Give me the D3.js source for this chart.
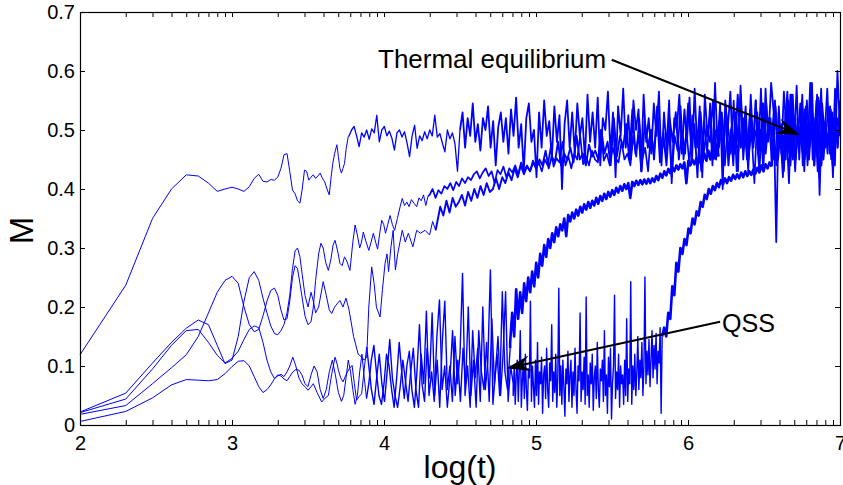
<!DOCTYPE html>
<html>
<head>
<meta charset="utf-8">
<script src="https://cdn.jsdelivr.net/npm/d3@7"></script>
<style>
body { margin: 0; background: #fff; }
text { font-family: "Liberation Sans", Arial, Helvetica, sans-serif; fill: #000; }
</style>
</head>
<body>
<script>
// x = log(t), y = M

// curve A (top, reaches 0.42 early)
var curveA = [[2,.119],[2.301,.237],[2.477,.35],[2.602,.40],[2.699,.424],[2.778,.422],[2.845,.41],[2.903,.396],[2.954,.40],[3,.403],[3.041,.40],[3.079,.396],[3.114,.404],[3.146,.418],[3.176,.425],[3.204,.413],[3.23,.412],[3.255,.416],[3.279,.415],[3.301,.42],[3.322,.435],[3.342,.458],[3.362,.46],[3.38,.43],[3.398,.398],[3.415,.392],[3.431,.38],[3.447,.376],[3.462,.40],[3.477,.432],[3.491,.43],[3.505,.415],[3.519,.42],[3.535,.424],[3.55,.418],[3.565,.422],[3.58,.427],[3.595,.418],[3.61,.412],[3.625,.40],[3.64,.39],[3.652,.42],[3.663,.443],[3.675,.46],[3.69,.475],[3.70,.455],[3.71,.435],[3.72,.427],[3.73,.435],[3.74,.443],[3.752,.47],[3.765,.489]];
var curveANoise1Span = [3.77, 4.5];
var curveANoise1 = [.49,.50,.506,.49,.472,.495,.488,.50,.484,.502,.495,.525,.48,.50,.506,.49,.498,.486,.466,.495,.50,.488,.497,.478,.455,.49,.508,.469,.49,.482,.497,.485,.50,.49,.525,.488,.494,.478,.463,.50,.485,.495,.477,.43,.50];
var curveANoise2Span = [4.5, 7];
var curveANoise2 = [.50,.53,.47,.52,.49,.545,.48,.51,.465,.52,.50,.54,.47,.515,.44,.505,.53,.48,.52,
  .46,.535,.49,.555,.47,.51,.43,.52,.545,.48,.50,.42,.53,.47,.55,.49,.515,.45,.54,.48,.525,.40,.51,.55,.47,.53,.46,.545,.49,.52,
  .45,.56,.48,.53,.47,.555,.44,.52,.50,.565,.46,.53,.42,.54,.49,.57,.47,.525,.45,.55,.50,.535,.43,.56,.48,.52,.46,.545,.49,.565,.44,.53,.47,.55,.41,.52,.50,.56,.46,.535,.48,.555,
  .45,.57,.47,.54,.42,.56,.49,.525,.44,.58,.47,.545,.40,.55,.50,.565,.46,.53,.43,.575,.48,.54,.45,.56,.47,.55,.46,.57,.44,.55,
  .49,.58,.53,.31,.54,.46,.565,.50,.41,.56,.47,.575,.45,.535,.43,.55,.48,.58,.44,.56,.39,.545,.49,.57,.46,.53,.44,.60,.50];

// curve B (rises second)
var curveB = [[2,.018],[2.301,.033],[2.477,.07],[2.602,.097],[2.699,.119],[2.778,.15],[2.845,.19],[2.903,.225],[2.954,.245],[3,.252],[3.041,.24],[3.079,.20],[3.114,.17],[3.146,.158],[3.176,.162],[3.204,.185],[3.23,.21],[3.255,.228],[3.279,.232],[3.301,.22],[3.322,.195],[3.342,.178],[3.362,.18],[3.38,.21],[3.398,.25],[3.415,.27],[3.431,.265],[3.447,.24],[3.465,.21],[3.48,.185],[3.50,.17],[3.52,.175],[3.535,.20],[3.55,.245],[3.57,.29],[3.585,.308],[3.60,.30],[3.617,.275],[3.634,.262],[3.65,.28],[3.665,.305],[3.678,.313],[3.695,.295],[3.71,.274],[3.725,.27],[3.74,.285],[3.755,.278],[3.776,.262],[3.795,.31],[3.81,.339],[3.825,.322],[3.84,.30],[3.852,.31],[3.864,.327],[3.88,.312],[3.90,.296],[3.915,.31],[3.93,.325],[3.945,.31],[3.958,.298],[3.972,.325],[3.985,.347],[3.998,.34],[4.01,.325],[4.025,.34],[4.04,.355],[4.055,.34],[4.07,.33],[4.088,.35],[4.106,.37],[4.12,.384],[4.135,.372],[4.15,.378],[4.165,.37],[4.18,.382],[4.20,.375],[4.215,.37],[4.23,.385],[4.245,.38],[4.26,.39],[4.275,.372],[4.29,.388]];
var curveBNoiseSpan = [4.3, 7];
var curveBNoise = [.39,.40,.385,.398,.392,.405,.40,.41,.398,.412,.405,.418,.41,.42,.415,.425,
  .43,.418,.428,.435,.422,.43,.41,.432,.425,.438,.42,.435,.428,.44,.425,.445,.432,.44,.43,.448,.435,
  .445,.43,.45,.44,.47,.438,.452,.445,.48,.44,.455,.435,.46,.45,.49,.442,.455,.44,.465,.45,.445,.50,.448,.46,.44,.47,.452,.445,.48,.45,.46,
  .44,.49,.455,.52,.45,.47,.43,.50,.46,.53,.445,.48,.46,.51,.42,.49,.465,.54,.45,.50,.44,.525,.47,.49,.43,.515,.46,.545,.45,.50,.47,.53,.44,.51,.46,.55,.43,.49,.475,.52,.45,.50,.41,.53,.46,.545,.48,.51,.44,.54,.465,.50,.43,.525,.47,.56,.45,.505,.48,.535,.44,.52,.46,.55,.42,.51,.47,.54,.45,.52,.48,.53];

// curve C (rises third)
var curveC = [[2,.022],[2.301,.054],[2.477,.105],[2.602,.14],[2.699,.164],[2.778,.178],[2.845,.17],[2.903,.135],[2.954,.104],[3,.11],[3.041,.15],[3.079,.21],[3.114,.25],[3.146,.26],[3.176,.245],[3.204,.215],[3.23,.19],[3.255,.168],[3.279,.155],[3.301,.153],[3.322,.16],[3.342,.17],[3.362,.19],[3.38,.22],[3.398,.265],[3.415,.295],[3.431,.30],[3.447,.285],[3.462,.255],[3.48,.22],[3.50,.20],[3.52,.225],[3.535,.21],[3.55,.19],[3.57,.20],[3.60,.243],[3.62,.22],[3.64,.195],[3.656,.189],[3.675,.20],[3.69,.205],[3.71,.211],[3.73,.20],[3.75,.215],[3.77,.195],[3.80,.15],[3.83,.12],[3.853,.115],[3.87,.11],[3.886,.115],[3.90,.20],[3.919,.268],[3.935,.24],[3.95,.20],[3.974,.183],[3.99,.23],[4.007,.274],[4.02,.29],[4.03,.26],[4.045,.30],[4.06,.33],[4.075,.263],[4.09,.29],[4.105,.31],[4.12,.33],[4.14,.31],[4.16,.325],[4.19,.302],[4.215,.33],[4.24,.325],[4.27,.33],[4.30,.322],[4.32,.345],[4.34,.33]];
var curveCNoiseSpan = [4.37, 7];
var curveCNoise = [.37,.355,.38,.36,.385,.37,.378,.39,.372,.395,.38,
  .40,.385,.405,.39,.41,.395,.40,.418,.40,.42,
  .41,.428,.415,.435,.42,.44,.425,.438,.43,.445,
  .435,.45,.44,.465,.435,.455,.445,.48,.44,.46,.45,.47,.445,.49,.45,.46,.44,.475,.455,.465,
  .45,.50,.46,.48,.44,.52,.455,.49,.47,.51,.45,.535,.46,.49,.43,.515,.47,.50,.45,.54,.465,.495,.44,.52,.48,.53,.45,.50,.46,.545,.47,.51,.42,.53,.46,.50,.48,.55,.45,.515,.47,.53,.44,.505,.46,.56,.47,.52,.45,.535,.48,.50,.43,.545,.46,.52,.49,.55,.45,.51,.47,.565,.44,.525,.48,.50,.46,.54,.45,.53,.47,.555,.44,.51,.48,.535,.46,.52,.49];

// curve D (QSS, leaves it near log(t)=4.8)
var curveD = [[2,.021],[2.301,.044],[2.477,.095],[2.602,.135],[2.699,.16],[2.778,.162],[2.845,.14],[2.903,.118],[2.954,.105],[3,.113],[3.041,.125],[3.079,.145],[3.114,.162],[3.146,.168],[3.176,.165],[3.204,.14],[3.23,.11],[3.255,.09],[3.279,.079],[3.301,.083],[3.322,.086],[3.342,.082],[3.362,.09],[3.38,.10],[3.40,.115],[3.42,.10],[3.44,.08],[3.46,.07],[3.48,.065],[3.50,.059],[3.52,.065],[3.535,.07],[3.56,.055],[3.59,.039],[3.61,.045],[3.634,.05],[3.655,.085],[3.678,.115],[3.69,.105],[3.70,.093],[3.715,.08],[3.73,.073],[3.75,.085],[3.77,.095],[3.79,.101],[3.805,.07],[3.82,.042],[3.835,.048],[3.853,.053],[3.87,.095],[3.886,.132]];
var curveDNoiseSpan = [3.9, 4.83];
var curveDNoise = [.10,.06,.035,.08,.12,.07,.04,.09,.145,.08,.05,.03,.065,.11,.075,.04,.09,.13,
  .06,.03,.12,.07,.193,.05,.09,.04,.15,.212,.06,.10,.03,.08,.16,.05,.11,.04,
  .13,.07,.20,.05,.11,.03,.16,.09,.06,.14,.04,.18,.07,.12,.05,.226,.09,.06,.13];
var curveDRiseSpan = [4.83, 6.2];
var curveDRise = [.14,.19,.15,.23,.18,.225,.19,.24,.21,.25,.225,.26,.235,.275,.25,.29,.27,.305,.285,.315,.30,.325,.31,.335,.32,.34,.33,.35,.32,.356,.345,.36,.35,.365,.355,.37,.36,.374,.365,.378,.368,.38,.372,.385,.375,.388,.38,.392,.383,.395,.387,.398,.39,.402,.394,.405,.397,.408,.40,.41,.385,.412,.405,.414,.407,.415,.408,.416,.409,.417,.41,.418,.412,.422,.415,.426,.419,.43,.423,.434,.427,.437,.43,.44,.433,.442,.435,.445,.41,.448,.44,.45,.442,.452,.444,.455,.446,.46,.448,.465,.45,.47,.452,.475,.455];
var curveDBandSpan = [6.2, 7];
var curveDBand = [.47,.51,.45,.54,.46,.50,.44,.53,.48,.56,.45,.51,.43,.52,.47,.55,.46,.50,.44,.57,.48,.52,.45,.54,.47,.49,.42,.53,.46,.56,.45,.51,.48,.545,.44,.50,.47,.58,.45,.52,.43,.55,.48,.51,.46,.54,.44,.57,.47,.52];

// curve E (QSS, leaves it near log(t)=5.8)
var curveE = [[2,.006],[2.301,.023],[2.477,.046],[2.602,.068],[2.699,.077],[2.778,.076],[2.845,.075],[2.903,.077],[2.954,.087],[3,.099],[3.041,.108],[3.079,.109],[3.114,.10],[3.146,.082],[3.176,.065],[3.204,.055],[3.23,.06],[3.255,.068],[3.279,.078],[3.301,.085],[3.322,.083],[3.342,.078],[3.362,.075],[3.38,.082],[3.40,.09],[3.42,.094],[3.44,.093],[3.46,.085],[3.48,.07],[3.50,.065],[3.52,.085],[3.54,.10],[3.56,.09],[3.58,.06],[3.60,.045],[3.62,.06],[3.64,.09],[3.66,.11],[3.68,.085],[3.70,.055],[3.72,.04],[3.735,.05],[3.75,.08],[3.765,.11],[3.78,.09],[3.795,.06],[3.81,.035],[3.825,.05],[3.84,.09],[3.855,.12],[3.87,.08],[3.885,.045]];
var curveENoise1Span = [3.9, 4.85];
var curveENoise1 = [.07,.11,.135,.09,.05,.035,.07,.12,.10,.06,.03,.08,.14,.09,.045,.10,.125,.06,
  .03,.09,.17,.07,.04,.13,.08,.19,.05,.11,.03,.14,.21,.06,.10,.04,.15,.07,
  .12,.257,.05,.10,.03,.16,.08,.13,.04,.20,.06,.11,.263,.035,.09,.15,.05,.12,.226,.04,.10,.07];
var curveENoise2Span = [4.85, 5.83];
var curveENoise2 = [.05,.10,.035,.085,.11,.04,.09,.16,.03,.075,.105,.045,.12,.06,.025,.095,.08,.21,.04,.10,
  .065,.03,.11,.05,.14,.035,.09,.07,.115,.02,.085,.10,.045,.13,.06,.03,.105,.075,.17,.04,
  .09,.055,.12,.03,.08,.232,.05,.10,.035,.11,.065,.015,.095,.07,.125,.04,.085,.11,.03,.09,
  .05,.13,.06,.02,.10,.075,.19,.04,.09,.06,.115,.035,.217,.05,.085,.03,.105,.07,.12,.025,
  .08,.10,.045,.14,.06,.03,.095,.075,.11,.04,.16,.05,.085,.02,.115,.065,.13,.01,.07,.10,
  .22,.045,.09,.06,.12,.03,.10,.07,.085,.035,.11,.05,.18,.04,.095,.07,.243,.035,.10,.06,
  .12,.05,.09,.15,.06,.11,.08,.14,.05,.10,.251,.07,.125,.085,.145,.065,.11,.16,.08,.135,
  .095,.155,.07,.125,.105,.165,.02,.15];
var curveERiseSpan = [5.83, 6.55];
var curveERise = [.15,.165,.15,.19,.18,.235,.22,.275,.26,.30,.29,.315,.305,.333,.325,.35,.34,.362,.355,.378,.37,.39,.383,.40,.392,.405,.398,.41,.403,.415,.408,.418,.41,.42,.414,.424,.417,.425,.418,.428,.42,.43,.422,.43,.424,.433,.426,.436,.428,.44,.43,.442,.435,.445,.438];
var curveEBandSpan = [6.55, 7];
var curveEBand = [.46,.50,.44,.53,.47,.49,.45,.55,.46,.51,.43,.52,.48,.56,.45,.50,.47,.54,.44,.51,.46,.57,.45,.50,.48,.53,.42,.52,.47,.55];

var xTicks = [2, 3, 4, 5, 6, 7];
var yTicks = [0, 0.1, 0.2, 0.3, 0.4, 0.5, 0.6, 0.7];

var window_w = 843, window_h = 485;
var margin = {left: 80, top: 12, right: 3, bottom: 60};
var frame_w = window_w - margin.left - margin.right;
var frame_h = window_h - margin.top - margin.bottom;

var xScale = d3.scaleLinear().domain([2, 7]).range([0, frame_w]);
var yScale = d3.scaleLinear().domain([0, 0.7]).range([frame_h, 0]);

// minor ticks of the log(t) axis
var xMinor = [];
for (var n = 2; n < 7; n++) {
  for (var k = 2; k < 10; k++) xMinor.push(n + Math.log10(k));
}

// [span, values, stroke width]
var curves = [
  {pts: curveA, segs: [[curveANoise1Span, curveANoise1, 1.3], [curveANoise2Span, curveANoise2, 1.8]]},
  {pts: curveB, segs: [[curveBNoiseSpan, curveBNoise, 1.7]]},
  {pts: curveC, segs: [[curveCNoiseSpan, curveCNoise, 1.9]]},
  {pts: curveD, segs: [[curveDNoiseSpan, curveDNoise, 1.4], [curveDRiseSpan, curveDRise, 2.6], [curveDBandSpan, curveDBand, 1.8]]},
  {pts: curveE, segs: [[curveENoise1Span, curveENoise1, 1.4], [curveENoise2Span, curveENoise2, 1.4], [curveERiseSpan, curveERise, 2.6], [curveEBandSpan, curveEBand, 1.8]]}
];

var svg = d3.select("body").append("svg").attr("width", window_w).attr("height", window_h);
var g = svg.append("g").attr("transform", "translate(" + margin.left + "," + margin.top + ")");
var plot = g.append("g");

var line = d3.line()
  .x(function (d) { return xScale(d[0]); })
  .y(function (d) { return yScale(d[1]); });

function drawLine(pts, w) {
  plot.append("path")
    .attr("d", line(pts))
    .attr("fill", "none")
    .attr("stroke", "#0000ff")
    .attr("stroke-width", w)
    .attr("stroke-linejoin", "round");
}

curves.forEach(function (c) {
  drawLine(c.pts, 1);
  var prev = c.pts[c.pts.length - 1];
  c.segs.forEach(function (s) {
    var ix = d3.scaleLinear().domain([0, s[1].length - 1]).range(s[0]);
    var pts = [prev].concat(s[1].map(function (v, i) { return [ix(i), v]; }));
    drawLine(pts, s[2]);
    prev = pts[pts.length - 1];
  });
});

// axes, ticks pointing inside
var xAxis = d3.axisBottom(xScale).tickValues(xTicks.concat(xMinor))
  .tickSizeInner(-5).tickSizeOuter(0).tickPadding(11)
  .tickFormat(function (d) { return Number.isInteger(d) ? d : ""; });
var xAxisTop = d3.axisTop(xScale).tickValues(xTicks.concat(xMinor))
  .tickSizeInner(-5).tickSizeOuter(0).tickFormat("");
var yAxis = d3.axisLeft(yScale).tickValues(yTicks)
  .tickSizeInner(-5).tickSizeOuter(0).tickPadding(5)
  .tickFormat(function (d) { return d === 0 ? "0" : d.toFixed(1); });
var yAxisRight = d3.axisRight(yScale).tickValues(yTicks)
  .tickSizeInner(-5).tickSizeOuter(0).tickFormat("");

var axes = [
  g.append("g").attr("transform", "translate(0," + frame_h + ")").call(xAxis),
  g.append("g").call(xAxisTop),
  g.append("g").call(yAxis),
  g.append("g").attr("transform", "translate(" + frame_w + ",0)").call(yAxisRight)
];
axes.forEach(function (a) {
  a.select(".domain").remove();
  a.attr("font-family", null).attr("font-size", 20);
  a.selectAll("line").attr("stroke", "#000");
});

g.append("rect")
  .attr("x", 0.5).attr("y", 0.5)
  .attr("width", frame_w).attr("height", frame_h)
  .attr("fill", "none").attr("stroke", "#000").attr("stroke-width", 1.2);

// axis titles
svg.append("text")
  .attr("transform", "translate(33," + (margin.top + frame_h / 2 + 12) + ") rotate(-90)")
  .attr("text-anchor", "middle")
  .style("font-size", "33px")
  .text("M");

svg.append("text")
  .attr("x", 460).attr("y", 478)
  .attr("text-anchor", "middle")
  .style("font-size", "32px")
  .text("log(t)");

// annotations
var notes = [
  {label: "Thermal equilibrium", text: [3.961, 0.605], from: [5.498, 0.619], to: [6.737, 0.4915], len: 228},
  {label: "QSS", text: [6.224, 0.158], from: [6.211, 0.175], to: [4.807, 0.096], len: 53}
];

notes.forEach(function (nt) {
  g.append("text")
    .attr("x", xScale(nt.text[0])).attr("y", yScale(nt.text[1]))
    .attr("textLength", nt.len).attr("lengthAdjust", "spacingAndGlyphs")
    .style("font-size", "25px")
    .text(nt.label);

  var x0 = xScale(nt.from[0]), y0 = yScale(nt.from[1]);
  var x1 = xScale(nt.to[0]), y1 = yScale(nt.to[1]);
  var dx = x1 - x0, dy = y1 - y0, len = Math.sqrt(dx * dx + dy * dy);
  var ux = dx / len, uy = dy / len, nx = -uy, ny = ux;
  var L = 24, W = 8;
  g.append("line")
    .attr("x1", x0).attr("y1", y0)
    .attr("x2", x1 - ux * L * 0.6).attr("y2", y1 - uy * L * 0.6)
    .attr("stroke", "#000").attr("stroke-width", 2);
  var head = [
    [x1, y1],
    [x1 - ux * L + nx * W, y1 - uy * L + ny * W],
    [x1 - ux * L * 0.65, y1 - uy * L * 0.65],
    [x1 - ux * L - nx * W, y1 - uy * L - ny * W]
  ];
  g.append("path")
    .attr("d", "M" + head.map(function (p) { return p.join(","); }).join("L") + "Z")
    .attr("fill", "#000");
});
</script>
</body>
</html>
